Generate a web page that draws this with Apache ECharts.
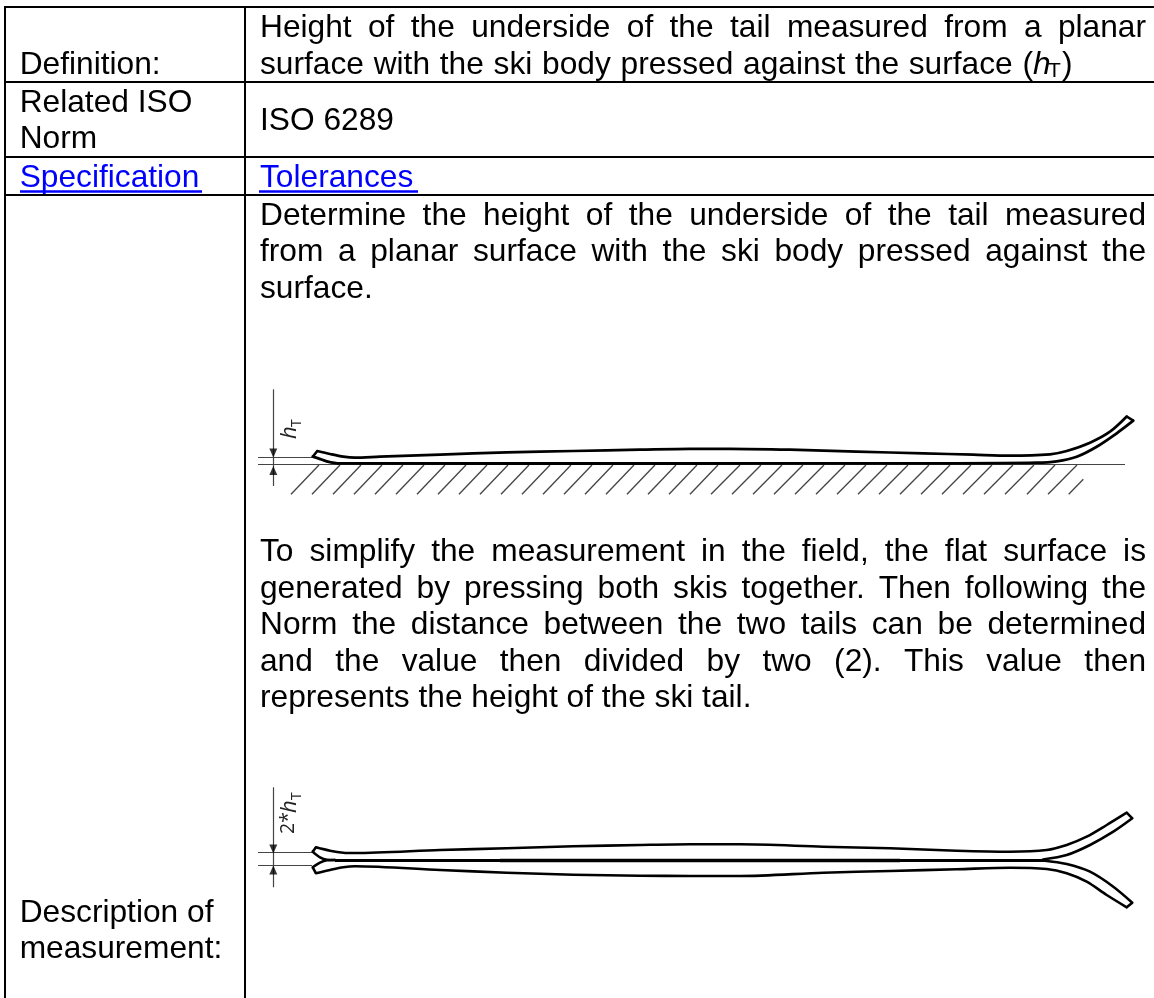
<!DOCTYPE html>
<html>
<head>
	<meta charset="utf-8">
	<title>Tail height</title>
	<script src="https://cdn.jsdelivr.net/npm/echarts@6/dist/echarts.min.js"></script>
	<style>html, body {margin: 0; padding: 0; background: #fff;}</style>
</head>
<body>
	<div id="main" style="width: 1154px;height: 998px"></div>
	<script type="text/javascript">
		// table text
		var definitionLabel = 'Definition:';
		var definitionLine1 = 'Height of the underside of the tail measured from a planar';
		var definitionLine2 = 'surface with the ski body pressed against the surface (';
		var normLabel = ['Related ISO', 'Norm'];
		var normValue = 'ISO 6289';
		var specLink = 'Specification';
		var toleranceLink = 'Tolerances';
		var descriptionLabel = ['Description of', 'measurement:'];
		var paragraph1 = [
			'Determine the height of the underside of the tail measured',
			'from a planar surface with the ski body pressed against the',
			'surface.'
		];
		var paragraph2 = [
			'To simplify the measurement in the field, the flat surface is',
			'generated by pressing both skis together. Then following the',
			'Norm the distance between the two tails can be determined',
			'and the value then divided by two (2). This value then',
			'represents the height of the ski tail.'
		];

		// table rules, read in picture pixels
		var rowRules = [6.5, 81.5, 156.5, 195];
		var columnRules = [5, 245];

		// first drawing: ski pressed on the surface
		var skiTop = [
			[317.3,451],[330,454],[343.3,456.7],[355,457.7],[380,456.7],[440,454.7],[506.7,452.3],[573.3,451],[640,449.7],
			[690,448.8],[730,448.8],[790,449.7],[856.7,451.7],[923.3,453.3],[973.3,454.7],[1010,455.7],[1050,454.3],[1066.7,451],
			[1090,442.7],[1110,431.7],[1126.7,416.5]
		];
		var skiBottom = [
			[1133.3,420.7],[1116.7,433.3],[1096.7,446.7],[1076.7,456.7],[1056.7,461.3],
			[1036.7,462.7],[956.7,463.3],[823,463.3],[690,463.5],[340,463.4],[326.7,461.3],[318.3,458.3],[312.7,456.7]
		];
		var skiTips = [[[1126.7,416.5],[1133.3,420.7]], [[312.7,456.7],[317.3,451]]];
		var hatchTopX = [319,340,361,382,403,424,445,466,487,508,529,550,571,592,613,634,655,676,697,718,740,761,782,803,824,845,866,887,908,929,950,971,992,1013,1034,1055,1077];
		var hatchBottomX = [291,312,333,354,375,396,417,438,459,480,501,522,543,564,585,606,627,648,669,690,711,732,753,774,795,816,837,858,879,900,921,942,963,984,1005,1027,1048];
		var hatchShort = [[1083.3,479.3],[1068.7,494.3]];
		var surfaceLine = [[258,464.5],[1125,464.5]];
		var tailLine = [[258,457.3],[312,457.3]];
		var dimensionLine = [[273.3,389.3],[273.3,486]];
		var dimensionArrows = [[273.3,453,180],[273.3,470.5,0]];

		// second drawing: both skis pressed together
		var upperTop = [
			[316,847.3],[330,850.7],[343.3,852.7],[355,853],[440,850],[506.7,848.3],[573.3,846.3],[640,845],
			[690,844.3],[740,844.3],[823,846.7],[890,848.3],[956.7,850.7],[1010,851.7],[1046.7,850],[1066.7,845],[1086.7,836.7],
			[1106.7,825],[1126.7,812.7]
		];
		var upperInner = [[1132.3,818.3],[1113.3,831.7],[1090,845],[1066.7,855],[1043,859.5]];
		var lowerTop = [
			[316,873.3],[330,870],[343.3,867.3],[355,866.3],[440,870],[506.7,872.7],[573.3,874.7],[640,875.7],
			[690,876],[740,876],[823.3,872.7],[890,871],[956.7,869.3],[1010,867.7],[1046.7,869],[1066.7,873.3],[1086.7,881.7],
			[1106.7,895],[1126.7,907.3]
		];
		var lowerInner = [[1132.3,902.7],[1113.3,886.7],[1090,871.7],[1066.7,864],[1043,860.5]];
		var skiTips2 = [[[1126.7,812.7],[1132.3,818.3]], [[1126.7,907.3],[1132.3,902.7]], [[316,847.3],[312.7,851.7]], [[316,873.3],[312.7,867.3]]];
		var upperTail = [[312.7,851.7],[320,857.3],[327,859.7],[335,860]];
		var lowerTail = [[312.7,867.3],[320,862.7],[327,860.3],[335,860]];
		var centreEnds = [[[335,860],[500,860]], [[900,860],[1045,860]]];
		var centreThick = [[500,860],[900,860]];
		var upperGuide = [[258,852.7],[312,852.7]];
		var lowerGuide = [[258,865.7],[312,865.7]];
		var dimensionLine2 = [[273.3,787.3],[273.3,887.3]];
		var dimensionArrows2 = [[273.3,849,180],[273.3,870,0]];

		var myChart = echarts.init(document.getElementById('main'));

		var FONT = '"Liberation Sans", Arial, sans-serif';
		var SIZE = 31.7;
		var measure = document.createElement('canvas').getContext('2d');
		function textWidth(s) {
			measure.font = SIZE + 'px ' + FONT;
			return measure.measureText(s).width;
		}

		var graphics = [];
		function addText(s, x, baseline, opt) {
			opt = opt || {};
			var size = opt.size || SIZE;
			graphics.push({
				type: 'text',
				x: x,
				y: baseline - 0.267 * size,
				silent: true,
				style: {
					text: s,
					fill: opt.color || '#000',
					font: (opt.italic ? 'italic ' : '') + size + 'px ' + FONT,
					align: 'left',
					verticalAlign: 'middle'
				}
			});
		}
		// stretch the word gaps so the line fills the cell
		function addJustified(s, left, right, baseline) {
			var words = s.split(' ');
			var total = 0;
			words.forEach(function (w) { total += textWidth(w); });
			var gap = (right - left - total) / (words.length - 1);
			var x = left;
			words.forEach(function (w) {
				addText(w, x, baseline);
				x += textWidth(w) + gap;
			});
		}
		function addRotated(s, x, y, size, italic) {
			graphics.push({
				type: 'text',
				x: x,
				y: y,
				rotation: Math.PI / 2,
				silent: true,
				style: {
					text: s,
					fill: '#222',
					font: (italic ? 'italic ' : '') + size + 'px "Open Sans", sans-serif',
					align: 'left',
					verticalAlign: 'middle'
				}
			});
		}

		var LEFT = 19.7, RIGHT = 260, END = 1146;
		addText(definitionLabel, LEFT, 73.3);
		addJustified(definitionLine1, RIGHT, END, 36.7);
		addJustified(definitionLine2, RIGHT, 1033, 73.3);
		addText('h', 1033, 73.3, {italic: true});
		addText('T', 1048, 76.7, {size: 21});
		addText(')', 1062, 73.3);
		addText(normLabel[0], LEFT, 111.7);
		addText(normLabel[1], LEFT, 147.7);
		addText(normValue, RIGHT, 130);
		addText(specLink, LEFT, 187, {color: '#0000ff'});
		addText(toleranceLink, RIGHT, 187, {color: '#0000ff'});
		addJustified(paragraph1[0], RIGHT, END, 225);
		addJustified(paragraph1[1], RIGHT, END, 261);
		addText(paragraph1[2], RIGHT, 297.5);
		addJustified(paragraph2[0], RIGHT, END, 561);
		addJustified(paragraph2[1], RIGHT, END, 597.5);
		addJustified(paragraph2[2], RIGHT, END, 634);
		addJustified(paragraph2[3], RIGHT, END, 670.5);
		addText(paragraph2[4], RIGHT, 707);
		addText(descriptionLabel[0], LEFT, 921.7);
		addText(descriptionLabel[1], LEFT, 957.5);

		addRotated('h', 289.4, 439, 22, true);
		addRotated('T', 297, 427, 14, false);
		addRotated('2*', 288.5, 834, 19.5, false);
		addRotated('h', 289.4, 813, 22, true);
		addRotated('T', 297, 800, 14, false);

		function straight(points, width, color) {
			return {coords: points, lineStyle: {width: width, color: color, opacity: 1}};
		}
		var rules = [];
		rowRules.forEach(function (y) { rules.push(straight([[4, y], [1154, y]], 2, '#000')); });
		columnRules.forEach(function (x) { rules.push(straight([[x, 6], [x, 998]], 2, '#000')); });
		rules.push(straight([[20, 191.3], [202, 191.3]], 2.5, '#0000ff'));
		rules.push(straight([[259, 191.3], [418, 191.3]], 2.5, '#0000ff'));

		var thin = [];
		[surfaceLine, tailLine, dimensionLine, upperGuide, lowerGuide, dimensionLine2].forEach(function (p) {
			thin.push(straight(p, 1.2, '#444'));
		});
		hatchTopX.forEach(function (x, i) {
			thin.push(straight([[x, 465], [hatchBottomX[i], 494.3]], 1.3, '#444'));
		});
		thin.push(straight(hatchShort, 1.3, '#444'));
		skiTips.concat(skiTips2).forEach(function (p) { thin.push(straight(p, 2.6, '#000')); });
		centreEnds.forEach(function (p) { thin.push(straight(p, 2.8, '#000')); });
		thin.push(straight(centreThick, 3.4, '#000'));

		function outline(points, width) {
			return {
				type: 'line',
				data: points,
				symbol: 'none',
				smooth: 0.3,
				silent: true,
				lineStyle: {width: width, color: '#000', join: 'round', cap: 'round'}
			};
		}

		var option = {
			animation: false,
			backgroundColor: '#fff',
			grid: {left: 0, right: 0, top: 0, bottom: 0},
			xAxis: {type: 'value', min: 0, max: 1154, show: false},
			yAxis: {type: 'value', min: 0, max: 998, inverse: true, show: false},
			graphic: graphics,
			series: [
				{type: 'lines', coordinateSystem: 'cartesian2d', silent: true, data: rules},
				{type: 'lines', coordinateSystem: 'cartesian2d', silent: true, data: thin},
				outline(skiTop, 2.7),
				outline(skiBottom, 2.8),
				outline(upperTop, 2.6),
				outline(upperInner, 2.6),
				outline(lowerTop, 2.6),
				outline(lowerInner, 2.6),
				outline(upperTail, 2.6),
				outline(lowerTail, 2.6),
				{
					type: 'scatter',
					silent: true,
					data: dimensionArrows.concat(dimensionArrows2),
					symbol: 'triangle',
					symbolSize: [8, 9],
					symbolRotate: function (val) { return val[2]; },
					itemStyle: {color: '#000'}
				}
			]
		};
		myChart.setOption(option);
	</script>
</body>
</html>
